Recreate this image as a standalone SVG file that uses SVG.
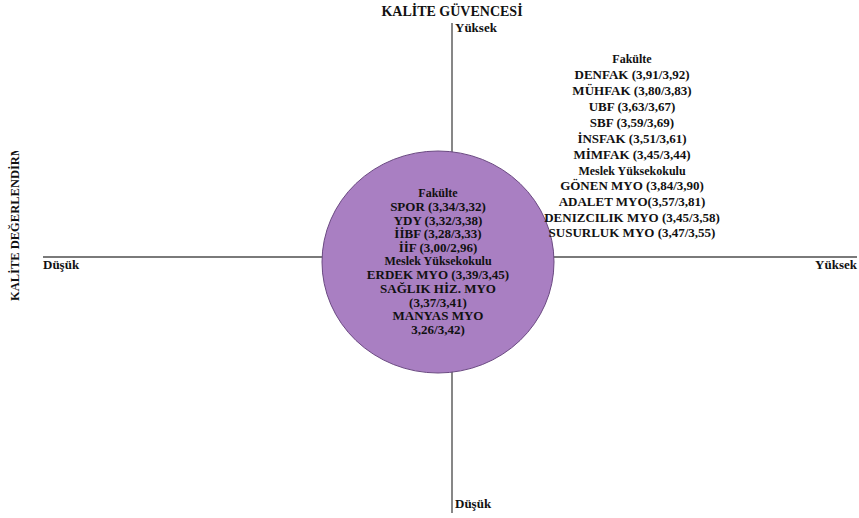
<svg xmlns="http://www.w3.org/2000/svg" width="859" height="518" viewBox="0 0 859 518">
<style>
text{font-family:"Liberation Serif","Times New Roman",serif;font-weight:bold;fill:#111;}
.axis{stroke:#7a7a7a;stroke-width:1.8;fill:none;}
.t{font-size:13px;text-anchor:middle;}
.s{font-size:12px;text-anchor:middle;}
.lab{font-size:13px;}
.title{font-size:14px;}
.vt{font-size:12.5px;}
</style>
<defs>
<clipPath id="clipL"><rect x="0" y="151" width="40" height="200"/></clipPath>
</defs>
<g id="connectors">
<line class="axis" x1="452" y1="23" x2="452" y2="513"/>
<line class="axis" x1="43" y1="257" x2="857" y2="257"/>
</g>
<g id="titleTop"><text class="title" x="452" y="16" text-anchor="middle">KALİTE GÜVENCESİ</text></g>
<g id="titleLeft" clip-path="url(#clipL)"><text class="vt" transform="translate(19,301) rotate(-90)">KALİTE DEĞERLENDİRM</text></g>
<g id="labels">
<text class="lab" x="455" y="32">Yüksek</text>
<text class="lab" x="43" y="269">Düşük</text>
<text class="lab" x="857" y="269" text-anchor="end">Yüksek</text>
<text class="lab" x="455" y="508">Düşük</text>
</g>
<g id="circle">
<ellipse cx="438" cy="262" rx="116" ry="111" fill="#a97fc2" stroke="#6b4a82" stroke-width="1"/>
<text class="s" x="438" y="197">Fakülte</text>
<text class="t" x="438" y="211">SPOR (3,34/3,32)</text>
<text class="t" x="438" y="224.5">YDY (3,32/3,38)</text>
<text class="t" x="438" y="238">İİBF (3,28/3,33)</text>
<text class="t" x="438" y="251.5">İİF (3,00/2,96)</text>
<text class="s" x="438" y="265">Meslek Yüksekokulu</text>
<text class="t" x="438" y="279">ERDEK MYO (3,39/3,45)</text>
<text class="t" x="438" y="292.5">SAĞLIK HİZ. MYO</text>
<text class="t" x="438" y="306.5">(3,37/3,41)</text>
<text class="t" x="438" y="320">MANYAS MYO</text>
<text class="t" x="438" y="334">3,26/3,42)</text>
</g>
<g id="rightList">
<text class="s" x="632" y="63">Fakülte</text>
<text class="t" x="632" y="79">DENFAK (3,91/3,92)</text>
<text class="t" x="632" y="95">MÜHFAK (3,80/3,83)</text>
<text class="t" x="632" y="111">UBF (3,63/3,67)</text>
<text class="t" x="632" y="127">SBF (3,59/3,69)</text>
<text class="t" x="632" y="143">İNSFAK (3,51/3,61)</text>
<text class="t" x="632" y="158.5">MİMFAK (3,45/3,44)</text>
<text class="s" x="632" y="174.5">Meslek Yüksekokulu</text>
<text class="t" x="632" y="190">GÖNEN MYO (3,84/3,90)</text>
<text class="t" x="632" y="205.5">ADALET MYO(3,57/3,81)</text>
<text class="t" x="632" y="221.5">DENIZCILIK MYO (3,45/3,58)</text>
<text class="t" x="632" y="237">SUSURLUK MYO (3,47/3,55)</text>
</g>
</svg>
